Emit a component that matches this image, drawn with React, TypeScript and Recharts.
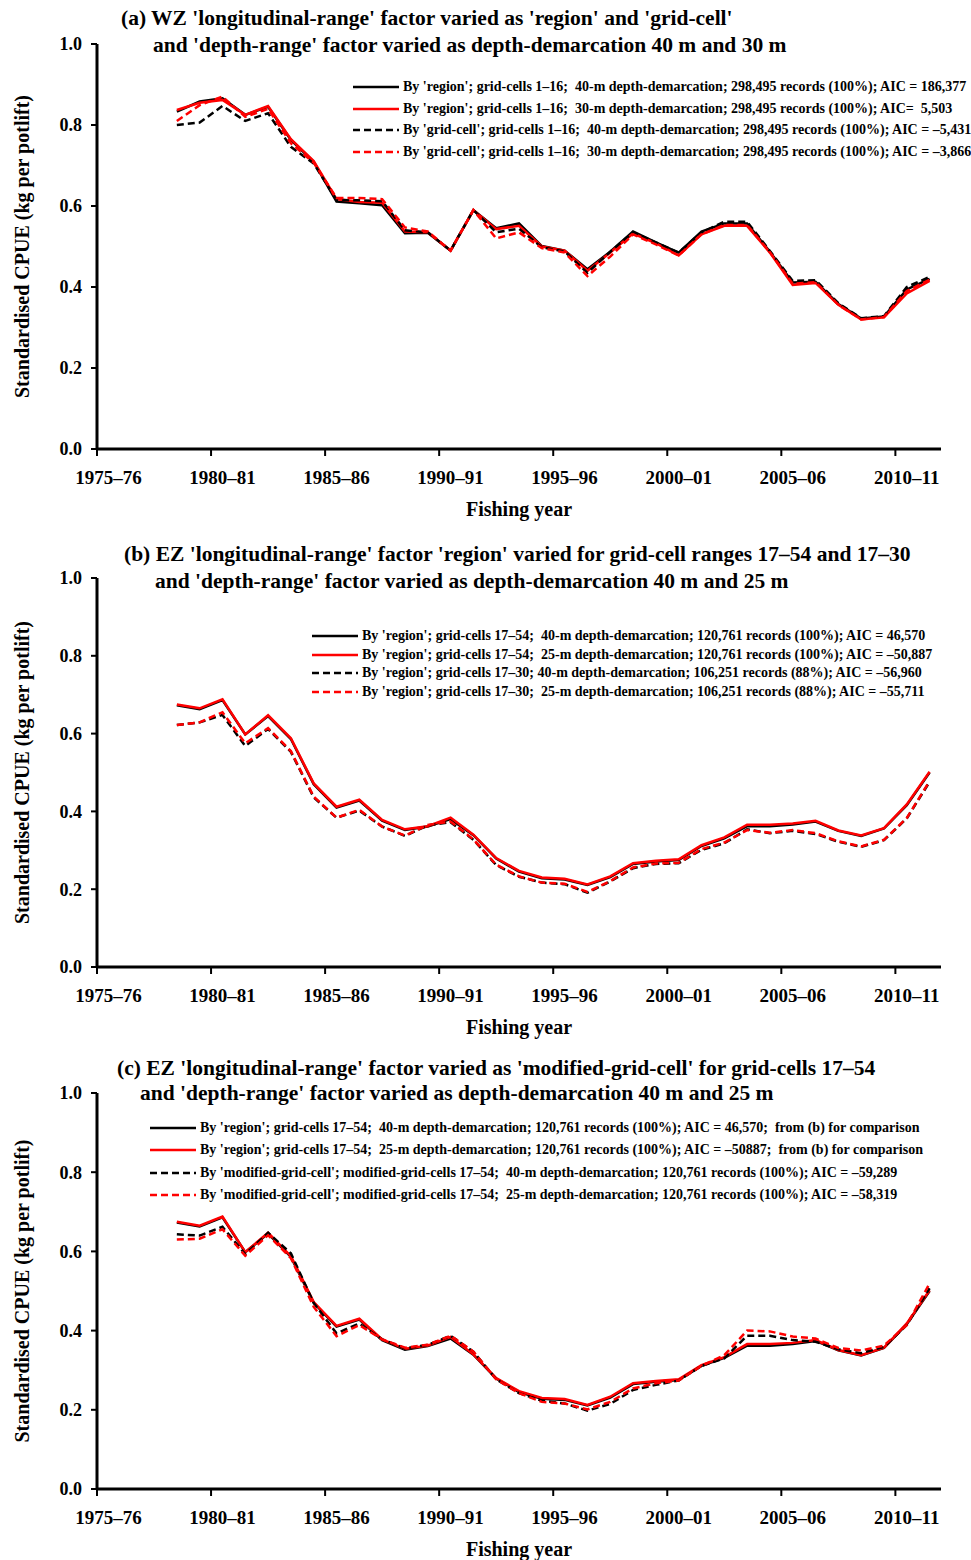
import React from "react";
import { LineChart, Line, XAxis, YAxis, Legend } from "recharts";

const fishingYears = [
  "1975–76", "1976–77", "1977–78", "1978–79", "1979–80", "1980–81", "1981–82", "1982–83",
  "1983–84", "1984–85", "1985–86", "1986–87", "1987–88", "1988–89", "1989–90", "1990–91",
  "1991–92", "1992–93", "1993–94", "1994–95", "1995–96", "1996–97", "1997–98", "1998–99",
  "1999–00", "2000–01", "2001–02", "2002–03", "2003–04", "2004–05", "2005–06", "2006–07",
  "2007–08", "2008–09", "2009–10", "2010–11", "2011–12",
];
// series start in 1978–79
const firstDataYear = "1978–79";
const yTicks = [0, 0.2, 0.4, 0.6, 0.8, 1.0];

// (a) WZ
const wzRegion40 = [0.833, 0.858, 0.866, 0.825, 0.845, 0.763, 0.709, 0.611, 0.607, 0.602, 0.533, 0.534, 0.49, 0.59, 0.545, 0.557, 0.501, 0.49, 0.444, 0.487, 0.537, 0.51, 0.485, 0.537, 0.557, 0.557, 0.487, 0.411, 0.413, 0.358, 0.322, 0.327, 0.394, 0.42];
const wzRegion30 = [0.837, 0.855, 0.862, 0.825, 0.847, 0.765, 0.711, 0.617, 0.61, 0.608, 0.537, 0.535, 0.49, 0.59, 0.543, 0.551, 0.5, 0.49, 0.44, 0.485, 0.532, 0.508, 0.478, 0.53, 0.551, 0.551, 0.485, 0.405, 0.41, 0.356, 0.32, 0.325, 0.384, 0.415];
const wzGrid40 = [0.8, 0.806, 0.847, 0.81, 0.829, 0.746, 0.705, 0.615, 0.614, 0.612, 0.54, 0.535, 0.49, 0.59, 0.535, 0.544, 0.498, 0.488, 0.435, 0.487, 0.535, 0.51, 0.485, 0.535, 0.561, 0.561, 0.489, 0.415, 0.417, 0.36, 0.323, 0.328, 0.4, 0.425];
const wzGrid30 = [0.81, 0.849, 0.87, 0.82, 0.84, 0.755, 0.707, 0.62, 0.62, 0.617, 0.547, 0.537, 0.49, 0.59, 0.52, 0.535, 0.496, 0.485, 0.427, 0.475, 0.53, 0.505, 0.478, 0.53, 0.553, 0.553, 0.486, 0.408, 0.412, 0.356, 0.32, 0.326, 0.39, 0.418];

// (b) EZ
const ezRegion40 = [0.673, 0.663, 0.686, 0.598, 0.645, 0.586, 0.47, 0.41, 0.428, 0.376, 0.352, 0.361, 0.38, 0.339, 0.279, 0.245, 0.228, 0.225, 0.211, 0.231, 0.265, 0.271, 0.275, 0.311, 0.331, 0.362, 0.362, 0.366, 0.374, 0.35, 0.337, 0.356, 0.416, 0.5];
const ezRegion25 = [0.675, 0.665, 0.688, 0.598, 0.647, 0.588, 0.472, 0.412, 0.43, 0.378, 0.354, 0.362, 0.384, 0.34, 0.28, 0.247, 0.23, 0.227, 0.212, 0.233, 0.267, 0.273, 0.277, 0.313, 0.333, 0.366, 0.366, 0.369, 0.376, 0.351, 0.338, 0.357, 0.418, 0.502];
const ezRegion40Cells1730 = [0.622, 0.629, 0.648, 0.568, 0.612, 0.553, 0.436, 0.384, 0.402, 0.361, 0.337, 0.364, 0.372, 0.327, 0.262, 0.232, 0.217, 0.213, 0.191, 0.22, 0.254, 0.265, 0.267, 0.301, 0.318, 0.354, 0.344, 0.35, 0.342, 0.322, 0.309, 0.326, 0.382, 0.476];
const ezRegion25Cells1730 = [0.622, 0.629, 0.655, 0.575, 0.614, 0.555, 0.438, 0.384, 0.404, 0.361, 0.338, 0.365, 0.374, 0.328, 0.263, 0.233, 0.217, 0.214, 0.193, 0.221, 0.256, 0.266, 0.268, 0.303, 0.32, 0.352, 0.345, 0.352, 0.344, 0.323, 0.31, 0.327, 0.383, 0.478];

// (c) EZ modified-grid-cell
const ezModGrid40 = [0.643, 0.64, 0.662, 0.593, 0.647, 0.595, 0.47, 0.393, 0.418, 0.378, 0.355, 0.364, 0.387, 0.347, 0.277, 0.242, 0.223, 0.216, 0.198, 0.215, 0.25, 0.263, 0.274, 0.311, 0.33, 0.387, 0.387, 0.376, 0.372, 0.353, 0.343, 0.359, 0.414, 0.507];
const ezModGrid25 = [0.63, 0.632, 0.656, 0.589, 0.641, 0.583, 0.46, 0.386, 0.414, 0.378, 0.357, 0.364, 0.387, 0.347, 0.277, 0.242, 0.22, 0.216, 0.201, 0.22, 0.254, 0.267, 0.274, 0.311, 0.338, 0.4, 0.398, 0.385, 0.38, 0.356, 0.35, 0.362, 0.414, 0.519];

const FONT = "'Liberation Serif', 'Times New Roman', serif";
const PLOT_LEFT = 97;
const PLOT_RIGHT = 941;
const BAND = (PLOT_RIGHT - PLOT_LEFT) / fishingYears.length;

type Series = { key: string; values: number[]; color: string; dashed: boolean; label: string };

const buildData = (series: Series[]) => {
  const start = fishingYears.indexOf(firstDataYear);
  return fishingYears.map((fy, i) => {
    const row: Record<string, string | number | null> = { fy };
    series.forEach((s) => {
      row[s.key] = i >= start ? s.values[i - start] ?? null : null;
    });
    return row;
  });
};

// tick mark sits on the category boundary, label in the middle of the year
const YearTick = (props: any) => {
  const { x, y, payload } = props;
  return (
    <g>
      <line x1={x - BAND / 2} x2={x - BAND / 2} y1={y} y2={y + 7} stroke="#000" strokeWidth={2} />
      <text x={x} y={y + 35} textAnchor="middle" fontFamily={FONT} fontWeight="bold" fontSize={19} fill="#000">
        {payload.value}
      </text>
    </g>
  );
};

interface PanelProps {
  top: number;
  height: number;
  plotTop: number;
  plotBottom: number;
  titles: { text: string; left: number; y: number }[];
  series: Series[];
  legend: { left: number; top: number; row: number; fontSize: number };
}

const Panel = ({ top, height, plotTop, plotBottom, titles, series, legend }: PanelProps) => {
  const data = buildData(series);
  const xAxisH = 40;
  return (
    <div style={{ position: "absolute", left: 0, top, width: 971, height }}>
      <LineChart
        width={971}
        height={height}
        data={data}
        margin={{ top: plotTop, right: 971 - PLOT_RIGHT, left: 0, bottom: height - plotBottom - xAxisH }}
      >
        <XAxis
          dataKey="fy"
          interval={4}
          height={xAxisH}
          padding={{ left: BAND / 2, right: BAND / 2 }}
          tickSize={0}
          tickMargin={0}
          tickLine={false}
          axisLine={{ stroke: "#000", strokeWidth: 3 }}
          tick={<YearTick />}
          label={{
            value: "Fishing year",
            position: "bottom",
            offset: 13,
            style: { fontFamily: FONT, fontWeight: "bold", fontSize: 20, fill: "#000" },
          }}
        />
        <YAxis
          width={PLOT_LEFT}
          domain={[0, 1]}
          ticks={yTicks}
          tickFormatter={(v: number) => v.toFixed(1)}
          axisLine={{ stroke: "#000", strokeWidth: 3 }}
          tickLine={{ stroke: "#000", strokeWidth: 2 }}
          tickSize={6}
          tickMargin={9}
          tick={{ fontFamily: FONT, fontWeight: "bold", fontSize: 18, fill: "#000" }}
          label={{
            value: "Standardised CPUE (kg per potlift)",
            angle: -90,
            position: "insideLeft",
            offset: 22,
            style: { textAnchor: "middle", fontFamily: FONT, fontWeight: "bold", fontSize: 20, fill: "#000" },
          }}
        />
        <Legend
          layout="vertical"
          align="center"
          verticalAlign="middle"
          wrapperStyle={{ left: legend.left, top: legend.top, width: "auto", height: "auto" }}
          content={() => (
            <div style={{ fontFamily: FONT, fontWeight: "bold", fontSize: legend.fontSize, color: "#000" }}>
              {series.map((s) => (
                <div key={s.key} style={{ display: "flex", alignItems: "center", height: legend.row, whiteSpace: "pre" }}>
                  <svg width={46} height={6} style={{ marginRight: 4 }}>
                    <line x1={0} x2={46} y1={3} y2={3} stroke={s.color} strokeWidth={2.5} strokeDasharray={s.dashed ? "7 4" : undefined} />
                  </svg>
                  <span>{s.label}</span>
                </div>
              ))}
            </div>
          )}
        />
        {series.map((s) => (
          <Line
            key={s.key}
            dataKey={s.key}
            name={s.label}
            type="linear"
            stroke={s.color}
            strokeWidth={2.5}
            strokeDasharray={s.dashed ? "7 4" : undefined}
            dot={false}
            activeDot={false}
            isAnimationActive={false}
          />
        ))}
      </LineChart>
      {titles.map((t) => (
        <div
          key={t.text}
          style={{
            position: "absolute",
            left: t.left,
            top: t.y - 12,
            lineHeight: "24px",
            fontFamily: FONT,
            fontWeight: "bold",
            fontSize: 21.5,
            whiteSpace: "pre",
            color: "#000",
          }}
        >
          {t.text}
        </div>
      ))}
    </div>
  );
};

const BLACK = "#000000";
const RED = "#ff0000";

const panelA: Series[] = [
  { key: "r40", values: wzRegion40, color: BLACK, dashed: false, label: "By 'region'; grid-cells 1–16;  40-m depth-demarcation; 298,495 records (100%); AIC = 186,377" },
  { key: "r30", values: wzRegion30, color: RED, dashed: false, label: "By 'region'; grid-cells 1–16;  30-m depth-demarcation; 298,495 records (100%); AIC=  5,503" },
  { key: "g40", values: wzGrid40, color: BLACK, dashed: true, label: "By 'grid-cell'; grid-cells 1–16;  40-m depth-demarcation; 298,495 records (100%); AIC = –5,431" },
  { key: "g30", values: wzGrid30, color: RED, dashed: true, label: "By 'grid-cell'; grid-cells 1–16;  30-m depth-demarcation; 298,495 records (100%); AIC = –3,866" },
];

const panelB: Series[] = [
  { key: "r40", values: ezRegion40, color: BLACK, dashed: false, label: "By 'region'; grid-cells 17–54;  40-m depth-demarcation; 120,761 records (100%); AIC = 46,570" },
  { key: "r25", values: ezRegion25, color: RED, dashed: false, label: "By 'region'; grid-cells 17–54;  25-m depth-demarcation; 120,761 records (100%); AIC = –50,887" },
  { key: "s40", values: ezRegion40Cells1730, color: BLACK, dashed: true, label: "By 'region'; grid-cells 17–30; 40-m depth-demarcation; 106,251 records (88%); AIC = –56,960" },
  { key: "s25", values: ezRegion25Cells1730, color: RED, dashed: true, label: "By 'region'; grid-cells 17–30;  25-m depth-demarcation; 106,251 records (88%); AIC = –55,711" },
];

const panelC: Series[] = [
  { key: "r40", values: ezRegion40, color: BLACK, dashed: false, label: "By 'region'; grid-cells 17–54;  40-m depth-demarcation; 120,761 records (100%); AIC = 46,570;  from (b) for comparison" },
  { key: "r25", values: ezRegion25, color: RED, dashed: false, label: "By 'region'; grid-cells 17–54;  25-m depth-demarcation; 120,761 records (100%); AIC = –50887;  from (b) for comparison" },
  { key: "m40", values: ezModGrid40, color: BLACK, dashed: true, label: "By 'modified-grid-cell'; modified-grid-cells 17–54;  40-m depth-demarcation; 120,761 records (100%); AIC = –59,289" },
  { key: "m25", values: ezModGrid25, color: RED, dashed: true, label: "By 'modified-grid-cell'; modified-grid-cells 17–54;  25-m depth-demarcation; 120,761 records (100%); AIC = –58,319" },
];

export default function App() {
  return (
    <div style={{ position: "absolute", left: 0, top: 0, width: 971, height: 1560, background: "#fff", overflow: "hidden" }}>
      <Panel
        top={0}
        height={530}
        plotTop={44}
        plotBottom={449}
        series={panelA}
        legend={{ left: 353, top: 76, row: 21.7, fontSize: 14 }}
        titles={[
          { text: "(a) WZ 'longitudinal-range' factor varied as 'region' and 'grid-cell'", left: 121, y: 18 },
          { text: "and 'depth-range' factor varied as depth-demarcation 40 m and 30 m", left: 153, y: 45 },
        ]}
      />
      <Panel
        top={530}
        height={520}
        plotTop={48}
        plotBottom={437}
        series={panelB}
        legend={{ left: 312, top: 97, row: 18.5, fontSize: 14 }}
        titles={[
          { text: "(b) EZ 'longitudinal-range' factor 'region' varied for grid-cell ranges 17–54 and 17–30", left: 124, y: 24 },
          { text: "and 'depth-range' factor varied as depth-demarcation 40 m and 25 m", left: 155, y: 51 },
        ]}
      />
      <Panel
        top={1050}
        height={510}
        plotTop={43}
        plotBottom={439}
        series={panelC}
        legend={{ left: 150, top: 67, row: 22.3, fontSize: 14 }}
        titles={[
          { text: "(c) EZ 'longitudinal-range' factor varied as 'modified-grid-cell' for grid-cells 17–54", left: 117, y: 18 },
          { text: "and 'depth-range' factor varied as depth-demarcation 40 m and 25 m", left: 140, y: 43 },
        ]}
      />
    </div>
  );
}
